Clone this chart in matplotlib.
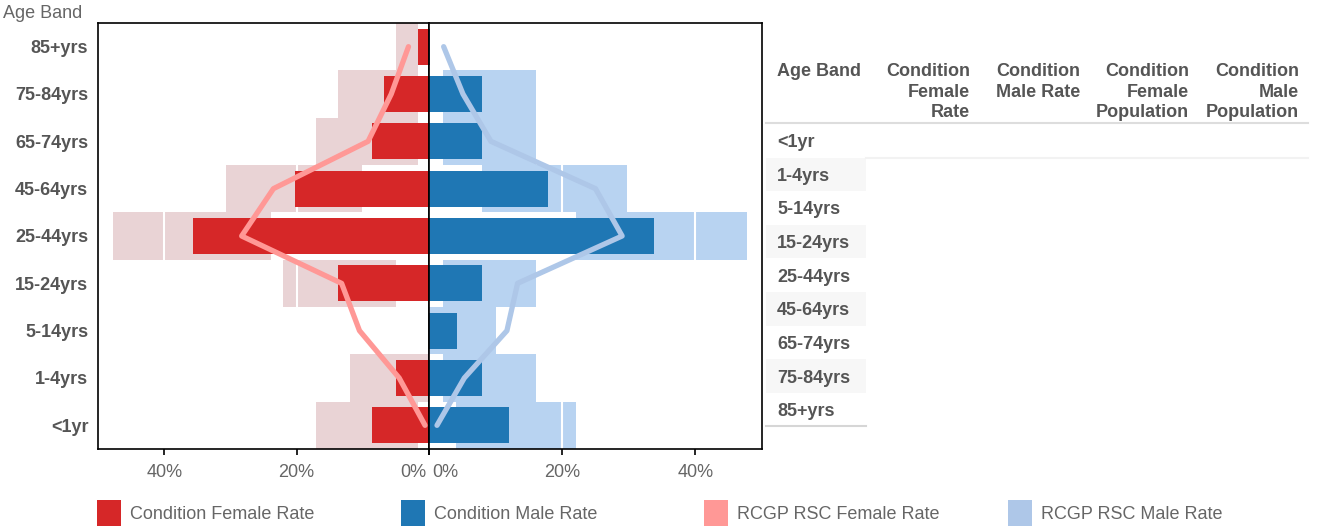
import matplotlib
matplotlib.use("Agg")
import numpy as np
import matplotlib.pyplot as plt
from matplotlib.patches import Rectangle
from matplotlib.transforms import ScaledTranslation

plt.rcParams['font.family'] = ['Liberation Sans', 'DejaVu Sans']

age_bands = ["<1yr", "1-4yrs", "5-14yrs", "15-24yrs", "25-44yrs",
             "45-64yrs", "65-74yrs", "75-84yrs", "85+yrs"]

# rates in percent, one value per age band (bottom to top)
cond_female_rate = [8.6, 5.0, 0.0, 13.7, 35.6, 20.2, 8.6, 6.8, 1.65]
cond_male_rate = [12.0, 8.0, 4.2, 8.0, 33.8, 17.9, 8.0, 8.0, 0.2]
rcgp_female_rate = [0.6, 4.5, 10.5, 13.2, 28.3, 23.5, 9.2, 5.7, 3.1]
rcgp_male_rate = [1.2, 5.3, 11.7, 13.3, 29.0, 25.0, 9.3, 5.1, 2.2]

# shaded RCGP RSC bands, low/high edge in percent (0/0 = nothing drawn)
rcgp_female_low = [1.65, 0.0, 0.0, 5.0, 23.8, 10.1, 1.65, 1.65, 1.65]
rcgp_female_high = [17.0, 11.9, 0.0, 22.0, 47.7, 30.7, 17.0, 13.7, 5.0]
rcgp_male_low = [4.1, 2.1, 0.0, 2.1, 22.0, 8.0, 2.1, 2.1, 0.0]
rcgp_male_high = [22.0, 16.1, 10.1, 16.1, 47.8, 29.8, 16.1, 16.1, 0.0]

x_ticks = [0, 20, 40]
x_max = 50

table_columns = ["Age Band", "Condition\nFemale\nRate", "Condition\nMale Rate",
                 "Condition\nFemale\nPopulation", "Condition\nMale\nPopulation"]

legend_labels = ["Condition Female Rate", "Condition Male Rate",
                 "RCGP RSC Female Rate", "RCGP RSC Male Rate"]

colours = {
    "cond_f": "#d62728",
    "cond_m": "#1f77b4",
    "line_f": "#ff9896",
    "line_m": "#aec7e8",
    "band_f": "#e9d3d5",
    "band_m": "#b8d3f1",
}
text_col = "#555555"
fs = 13

W, H = 1317, 529
fig = plt.figure(figsize=(W / 100, H / 100), dpi=100)


def box(x0, y0, x1, y1):
    return [x0 / W, 1 - y1 / H, (x1 - x0) / W, (y1 - y0) / H]


# pixel-space overlay for the table and legend
ax_t = fig.add_axes([0, 0, 1, 1])
ax_t.set_xlim(0, W)
ax_t.set_ylim(H, 0)
ax_t.axis("off")

ax_f = fig.add_axes(box(98, 23, 429, 449))
ax_m = fig.add_axes(box(429, 23, 762, 449))

y = np.arange(len(age_bands))

sides = [
    (ax_f, cond_female_rate, rcgp_female_rate, rcgp_female_low, rcgp_female_high, "f"),
    (ax_m, cond_male_rate, rcgp_male_rate, rcgp_male_low, rcgp_male_high, "m"),
]
for ax, cond, rcgp, lo, hi, key in sides:
    widths = np.array(hi) - np.array(lo)
    ax.barh(y, widths, left=lo, height=1.0, color=colours["band_" + key], zorder=1)
    for t in x_ticks[1:]:
        ax.axvline(t, color="white", lw=1.5, zorder=1.5)
    ax.barh(y, cond, height=0.76, color=colours["cond_" + key], zorder=2)
    ax.plot(rcgp, y, color=colours["line_" + key], lw=3.8,
            solid_capstyle="round", solid_joinstyle="round", zorder=3)
    ax.set_ylim(-0.5, len(age_bands) - 0.5)
    ax.set_xticks(x_ticks)
    ax.set_xticklabels([f"{t}%" for t in x_ticks])
    ax.tick_params(axis="x", direction="out", length=4.3, width=1.2,
                   color="black", labelcolor="#666666", labelsize=fs, pad=6.5)
    for sp in ax.spines.values():
        sp.set_linewidth(1.2)
        sp.set_color("black")

ax_f.set_xlim(x_max, 0)
ax_m.set_xlim(0, x_max)

ax_f.set_yticks(y)
ax_f.set_yticklabels(age_bands, fontweight="bold", color=text_col, fontsize=fs,
                     va="center_baseline")
ax_f.tick_params(axis="y", length=0, pad=7)
ax_m.set_yticks([])

# nudge the two 0% labels apart
zl = ax_f.get_xticklabels()[0]
zl.set_ha("right")
zl.set_transform(zl.get_transform() + ScaledTranslation(-2 / 72, 0, fig.dpi_scale_trans))
zr = ax_m.get_xticklabels()[0]
zr.set_ha("left")
zr.set_transform(zr.get_transform() + ScaledTranslation(2 / 72, 0, fig.dpi_scale_trans))

fig.text(3 / W, 1 - 13 / H, "Age Band", ha="left", va="center",
         color="#666666", fontsize=fs)

# data table beside the chart
col_right = [970, 1080, 1189, 1299]
ax_t.text(777, 63, table_columns[0], ha="left", va="top", fontsize=fs,
          fontweight="bold", color=text_col)
for xr, name in zip(col_right, table_columns[1:]):
    ax_t.text(xr, 63, name, ha="right", va="top", fontsize=fs, fontweight="bold",
              color=text_col, linespacing=1.28, multialignment="right")
ax_t.plot([766, 1308], [123, 123], color="#dddddd", lw=1.5)
ax_t.plot([866, 1308], [158, 158], color="#f2f2f2", lw=1.5)

row_h = 33.6
row_top = 124
for i, band in enumerate(age_bands):
    top = row_top + i * row_h
    if i % 2 == 1:
        ax_t.add_patch(Rectangle((766, top), 100, row_h, color="#f7f7f7", lw=0))
    ax_t.text(777, top + row_h / 2 + 2, band, ha="left", va="center", fontsize=fs,
              fontweight="bold", color=text_col)
ax_t.plot([766, 866], [row_top + len(age_bands) * row_h] * 2, color="#d6d6d6", lw=1.5)

# legend row
legend_cols = [colours["cond_f"], colours["cond_m"], colours["line_f"], colours["line_m"]]
for i, (lab, col) in enumerate(zip(legend_labels, legend_cols)):
    x0 = 97 + i * 303.7
    ax_t.add_patch(Rectangle((x0, 500), 24, 26, color=col, lw=0))
    ax_t.text(x0 + 33, 514.5, lab, ha="left", va="center", fontsize=fs, color="#666666")

fig.savefig("out.png", dpi=100)
